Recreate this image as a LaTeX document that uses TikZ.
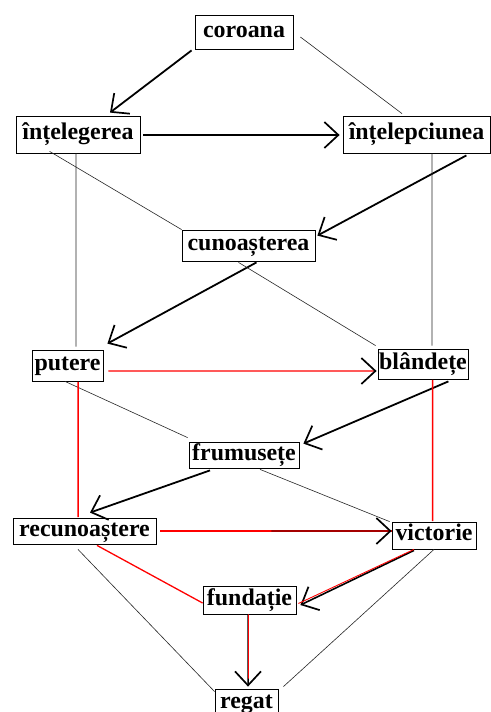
\documentclass[tikz,border=0pt]{standalone}
\usepackage{fontspec}
\setmainfont{Liberation Serif}
\usetikzlibrary{arrows.meta,calc}
\begin{document}
\begin{tikzpicture}[x=1bp,y=-1bp,
  box/.style={draw,line width=0.8pt,inner sep=0pt,font=\fontsize{24}{28}\selectfont\bfseries,text height=16pt,text depth=5pt},
  thinl/.style={line width=0.6pt,black!85},
  barb/.style={-{Straight Barb[black,length=14pt,width=26pt,line width=1.7pt]}},
  arr/.style={line width=1.8pt,barb},
  redl/.style={red,line width=1pt},
  redv/.style={draw=red,line width=1.5bp}]
\useasboundingbox (0,0) rectangle (491,712);
\fill[white] (0,0) rectangle (491,712);
% nodes
\node[box,minimum width=98bp,minimum height=34bp]  (cor)  at (244,32)    {coroana};
\node[box,minimum width=124bp,minimum height=37bp] (intg) at (78,134.5)  {înțelegerea};
\node[box,minimum width=147bp,minimum height=37bp] (intp) at (416.5,134.5) {înțelepciunea};
\node[box,minimum width=133bp,minimum height=31bp] (cun)  at (248.5,245.5) {cunoașterea};
\node[box,minimum width=71bp,minimum height=31bp]  (put)  at (67.5,365.5) {putere};
\node[box,minimum width=90bp,minimum height=30bp]  (bla)  at (423,364)   {blândețe};
\node[box,minimum width=110bp,minimum height=26bp] (fru)  at (244,455)   {frumusețe};
\node[box,minimum width=143bp,minimum height=26bp] (rec)  at (84.5,531)  {recunoaștere};
\node[box,minimum width=84bp,minimum height=27bp]  (vic)  at (434,535.5) {victorie};
\node[box,minimum width=93bp,minimum height=28bp]  (fun)  at (249.5,600) {fundație};
\node[box,minimum width=63bp,minimum height=29bp]  (reg)  at (246.5,703.5) {regat};
% connectors
\draw[arr] ($(cor.south west)+(-3,1)$) -- ($(intg.north)+(32,-3)$);
\draw[thinl] ($(cor.east)+(7,5)$) -- ($(intp.north)+(-14.5,-2)$);
\draw[arr] ($(intg.east)+(3,0.5)$) -- ($(intp.west)+(-3,0.5)$);
\draw[arr] ($(intp.south east)+(-24,2)$) -- ($(cun.north east)+(2,6)$);
\draw[thinl] ($(intg.south west)+(34,-2)$) -- (cun.north west);
\draw[thinl,line width=0.8pt] ($(intg.south)+(-2,0)$) -- ($(put.north)+(8.5,-3)$);
\draw[thinl,line width=0.8pt] ($(intp.south)+(15.5,0)$) -- ($(bla.north)+(9,-3)$);
\draw[arr] ($(cun.south)+(8,1)$) -- ($(put.north east)+(4,-6)$);
\draw[thinl] ($(cun.south)+(-10,1)$) -- ($(bla.north west)+(-2,-3)$);
\draw[redl,line width=1.3pt,barb] ($(put.east)+(5,5.5)$) -- ($(bla.west)+(-1,7)$);
\draw[thinl] ($(put.south)+(-2.5,0)$) -- ($(fru.north west)+(-1,-4)$);
\draw[arr] ($(bla.south east)+(-20,2)$) -- ($(fru.north east)+(4,2)$);
\draw[arr] ($(fru.south)+(-34,2)$) -- ($(rec.north)+(5.5,-5)$);
\draw[thinl] ($(fru.south)+(16,1)$) -- ($(vic.north west)+(-2,0)$);
\coordinate (rv1) at ($(rec.east)+(4,0)$);
\coordinate (rv2) at ($(vic.west)+(0,-4.5)$);
\draw[redl,line width=1.7pt] (rv1) -- (rv2);
\draw[line width=0.9pt,barb] ($(rv1)!0.48!(rv2)$) -- (rv2);
\draw[redl,line width=1.3pt] ($(rec.south)+(12.5,1)$) -- ($(fun.west)+(0,3)$);
\draw[thinl] ($(rec.south)+(-6.5,5)$) -- ($(reg.north west)+(0,3)$);
\draw[thinl] (vic.south) -- ($(reg.north east)+(5,-2)$);
\coordinate (vf1) at ($(vic.south)+(-20,1)$);
\coordinate (vf2) at ($(fun.east)+(4,5)$);
\draw[arr,line width=1.6pt] (vf1) -- (vf2);
\draw[red,line width=0.9pt] ($(vf1)+(0,-1)$) -- ($(vf2)+(-2,-1.5)$);
\coordinate (fr1) at ($(fun.south)+(-1.5,0)$);
\coordinate (fr2) at ($(reg.north)+(1.5,-2)$);
\draw[arr,line width=1.5pt] (fr1) -- (fr2);
\draw[red,line width=0.8pt] ($(fr1)+(0.5,0)$) -- ($(fr2)+(0.5,-8)$);
% red verticals
\draw[redv] ($(put.south)+(10.5,0.5)$) -- ($(rec.north)+(-6.5,-0.5)$);
\draw[redv] ($(bla.south)+(9.5,0.5)$) -- ($(vic.north)+(-1.5,-0.5)$);
\end{tikzpicture}
\end{document}
